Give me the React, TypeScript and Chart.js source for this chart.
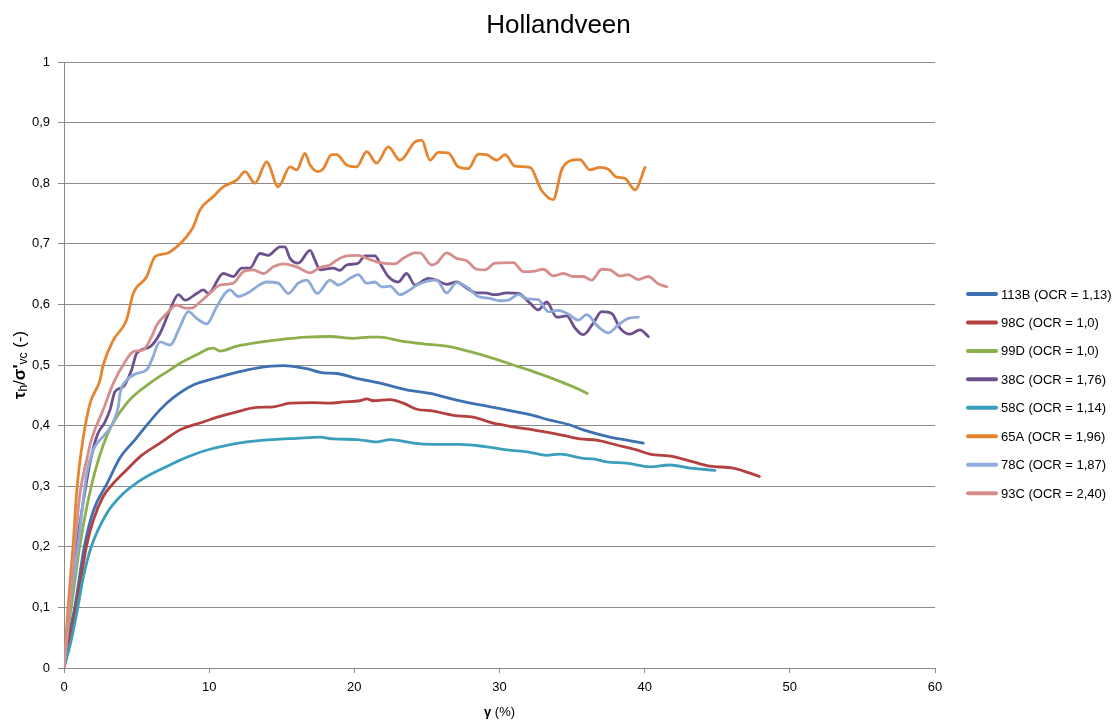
import React, { useEffect, useRef } from "react";
import { Chart, registerables } from "chart.js";

Chart.register(...registerables);

// ---------- data ----------
const chartTitle = "Hollandveen";
const xTickMax = 60;
const xTickStep = 10;
const yTickMax = 1;
const yTickStep = 0.1;

const seriesLabels = [
  "113B (OCR = 1,13)",
  "98C (OCR = 1,0)",
  "99D (OCR = 1,0)",
  "38C (OCR = 1,76)",
  "58C (OCR = 1,14)",
  "65A (OCR = 1,96)",
  "78C (OCR = 1,87)",
  "93C (OCR = 2,40)",
];

const d113B: [number, number][] = [
  [0, 0], [0.35, 0.055], [0.74, 0.1], [1.4, 0.2], [2.0, 0.258], [3.0, 0.306], [3.86, 0.347], [4.87, 0.376],
  [5.24, 0.387], [6.61, 0.426], [7.53, 0.446], [8.9, 0.467], [10.52, 0.479], [11.9, 0.488], [13.27, 0.495],
  [15.11, 0.499], [16.72, 0.494], [17.86, 0.487], [18.78, 0.486], [20.16, 0.478], [21.77, 0.47], [23.6, 0.459],
  [25.21, 0.453], [27.05, 0.442], [28.66, 0.434], [30.03, 0.428], [32.1, 0.418], [33.48, 0.409], [34.86, 0.401],
  [35.77, 0.393], [37.61, 0.381], [38.76, 0.376], [39.9, 0.371],
];

const d98C: [number, number][] = [
  [0, 0], [0.4, 0.05], [0.85, 0.101], [1.54, 0.2], [2.02, 0.244], [2.7, 0.283], [3.3, 0.302], [4.32, 0.327],
  [5.3, 0.35], [6.61, 0.371], [8.0, 0.393], [9.6, 0.406], [10.3, 0.412], [11.66, 0.421], [13.27, 0.43],
  [14.42, 0.431], [15.57, 0.437], [17.17, 0.438], [18.32, 0.437], [19.24, 0.439], [20.39, 0.441], [20.85, 0.444],
  [21.31, 0.441], [22.46, 0.443], [23.37, 0.437], [24.3, 0.427], [25.44, 0.424], [26.82, 0.417], [28.2, 0.414],
  [29.57, 0.404], [30.95, 0.398], [32.33, 0.393], [33.7, 0.387], [34.39, 0.384], [35.54, 0.378], [36.69, 0.376],
  [38.07, 0.368], [39.45, 0.36], [40.37, 0.353], [41.97, 0.349], [43.35, 0.34], [44.5, 0.333], [46.1, 0.33],
  [47.9, 0.316],
];

const d99D: [number, number][] = [
  [0, 0], [0.2, 0.05], [0.5, 0.1], [1.08, 0.2], [1.88, 0.3], [3.0, 0.386], [4.32, 0.437], [5.92, 0.47],
  [7.3, 0.492], [8.0, 0.503], [9.14, 0.517], [10.0, 0.527], [10.29, 0.528], [10.75, 0.523], [11.9, 0.531],
  [13.27, 0.537], [14.88, 0.542], [16.72, 0.546], [18.32, 0.547], [19.93, 0.544], [21.08, 0.546], [21.77, 0.546],
  [23.14, 0.54], [24.75, 0.535], [26.36, 0.531], [27.97, 0.522], [29.57, 0.511], [30.95, 0.5], [32.33, 0.489],
  [33.94, 0.475], [35.54, 0.459], [36.05, 0.453],
];

const d38C: [number, number][] = [
  [0, 0], [0.35, 0.1], [0.86, 0.2], [1.3, 0.27], [1.8, 0.34], [2.3, 0.385], [2.8, 0.405], [3.17, 0.426],
  [3.51, 0.456], [4.08, 0.464], [4.66, 0.492], [5.0, 0.519], [5.92, 0.53], [6.61, 0.552], [7.3, 0.591],
  [7.88, 0.616], [8.34, 0.607], [9.14, 0.618], [9.6, 0.624], [9.94, 0.618], [10.97, 0.651], [11.66, 0.646],
  [12.24, 0.66], [12.81, 0.66], [13.5, 0.684], [14.07, 0.681], [14.88, 0.695], [15.22, 0.695], [15.57, 0.676],
  [16.14, 0.668], [16.95, 0.689], [17.29, 0.673], [17.63, 0.657], [18.55, 0.66], [19.01, 0.656], [19.47, 0.665],
  [20.27, 0.668], [20.73, 0.68], [21.42, 0.68], [21.77, 0.668], [22.34, 0.646], [23.03, 0.637], [23.6, 0.651],
  [24.18, 0.632], [25.1, 0.643], [25.67, 0.64], [26.36, 0.633], [27.05, 0.637], [27.74, 0.627], [28.43, 0.619],
  [29.0, 0.619], [29.69, 0.616], [30.5, 0.619], [31.3, 0.618], [32.1, 0.602], [32.67, 0.591], [33.25, 0.604],
  [33.94, 0.579], [34.63, 0.581], [35.2, 0.561], [35.77, 0.55], [36.46, 0.569], [37.04, 0.588], [37.73, 0.585],
  [38.3, 0.561], [38.99, 0.551], [39.68, 0.558], [40.25, 0.547],
];

const d58C: [number, number][] = [
  [0, 0], [0.5, 0.046], [0.96, 0.101], [1.33, 0.15], [1.88, 0.2], [2.94, 0.255], [4.08, 0.288], [5.1, 0.307],
  [5.7, 0.316], [7.3, 0.335], [8.0, 0.343], [9.37, 0.356], [10.97, 0.366], [12.58, 0.373], [14.42, 0.377],
  [16.03, 0.379], [17.63, 0.381], [18.55, 0.378], [20.16, 0.377], [21.54, 0.373], [22.46, 0.377], [24.06, 0.371],
  [25.44, 0.369], [27.28, 0.369], [29.12, 0.365], [30.5, 0.36], [32.1, 0.356], [33.25, 0.351], [34.17, 0.353],
  [35.77, 0.346], [36.46, 0.345], [37.38, 0.34], [38.76, 0.338], [40.37, 0.332], [41.74, 0.335], [43.12, 0.33],
  [44.04, 0.328], [44.84, 0.326],
];

const d65A: [number, number][] = [
  [0, 0], [0.28, 0.1], [0.62, 0.2], [0.87, 0.29], [1.3, 0.376], [1.8, 0.437], [2.48, 0.475], [2.7, 0.5],
  [3.4, 0.541], [4.3, 0.574], [4.77, 0.618], [5.7, 0.646], [6.27, 0.679], [7.07, 0.684], [7.76, 0.695],
  [8.45, 0.712], [8.9, 0.728], [9.37, 0.756], [10.29, 0.778], [10.97, 0.794], [11.9, 0.805], [12.47, 0.819],
  [13.16, 0.8], [13.96, 0.835], [14.76, 0.794], [15.57, 0.827], [16.03, 0.822], [16.6, 0.849], [16.95, 0.83],
  [17.52, 0.819], [17.86, 0.824], [18.44, 0.847], [18.78, 0.847], [19.47, 0.83], [20.16, 0.827], [20.85, 0.852],
  [21.54, 0.833], [22.34, 0.86], [23.14, 0.838], [24.18, 0.868], [24.64, 0.871], [25.21, 0.838], [25.78, 0.851],
  [26.47, 0.85], [27.16, 0.827], [27.85, 0.824], [28.54, 0.848], [29.12, 0.847], [29.8, 0.838], [30.38, 0.847],
  [31.07, 0.828], [32.1, 0.826], [32.9, 0.788], [33.7, 0.773], [34.28, 0.822], [34.86, 0.837], [35.54, 0.839],
  [36.23, 0.822], [36.92, 0.826], [37.5, 0.823], [38.07, 0.81], [38.64, 0.808], [39.33, 0.789], [40.02, 0.826],
];

const d78C: [number, number][] = [
  [0, 0], [0.4, 0.1], [0.96, 0.2], [1.56, 0.32], [2.02, 0.36], [2.46, 0.376], [2.7, 0.382], [3.28, 0.401],
  [3.74, 0.431], [3.86, 0.453], [4.32, 0.475], [5.0, 0.486], [5.7, 0.492], [6.04, 0.508], [6.61, 0.538],
  [7.3, 0.533], [7.99, 0.563], [8.56, 0.588], [9.14, 0.577], [9.83, 0.568], [10.52, 0.596], [11.09, 0.618],
  [11.43, 0.624], [12.0, 0.613], [12.81, 0.621], [13.27, 0.629], [13.96, 0.637], [14.76, 0.635], [15.45, 0.618],
  [16.14, 0.635], [16.72, 0.64], [17.45, 0.618], [18.32, 0.64], [18.9, 0.632], [19.7, 0.643], [20.27, 0.649],
  [20.85, 0.635], [21.42, 0.637], [21.88, 0.629], [22.46, 0.63], [23.14, 0.616], [23.83, 0.624], [24.4, 0.633],
  [25.67, 0.64], [26.36, 0.619], [27.05, 0.636], [27.85, 0.627], [28.54, 0.613], [29.34, 0.61], [30.03, 0.606],
  [30.61, 0.607], [31.3, 0.616], [31.98, 0.609], [32.67, 0.608], [33.36, 0.588], [34.05, 0.59], [34.74, 0.584],
  [35.43, 0.574], [36.0, 0.583], [36.81, 0.563], [37.5, 0.553], [38.18, 0.566], [38.87, 0.577], [39.56, 0.579],
];

const d93C: [number, number][] = [
  [0, 0], [0.39, 0.1], [0.74, 0.2], [1.1, 0.288], [1.56, 0.343], [1.88, 0.376], [2.7, 0.426], [3.4, 0.47],
  [4.2, 0.505], [4.77, 0.522], [5.46, 0.525], [6.04, 0.547], [6.39, 0.566], [7.07, 0.585], [7.76, 0.599],
  [8.34, 0.594], [8.8, 0.594], [9.37, 0.604], [10.17, 0.621], [10.75, 0.632], [11.66, 0.635], [12.35, 0.654],
  [13.04, 0.657], [13.73, 0.651], [14.42, 0.662], [15.11, 0.667], [16.03, 0.662], [16.95, 0.652], [17.63, 0.661],
  [18.32, 0.665], [18.78, 0.673], [19.47, 0.68], [20.27, 0.681], [20.85, 0.676], [21.77, 0.669], [22.8, 0.667],
  [23.37, 0.676], [24.18, 0.685], [24.52, 0.685], [25.33, 0.665], [25.67, 0.668], [26.36, 0.685], [27.05, 0.676],
  [27.74, 0.672], [28.43, 0.658], [29.0, 0.657], [29.69, 0.668], [30.95, 0.669], [31.64, 0.654], [32.44, 0.655],
  [33.02, 0.658], [33.7, 0.647], [34.39, 0.651], [35.08, 0.646], [35.77, 0.646], [36.35, 0.64], [37.04, 0.658],
  [37.61, 0.657], [38.3, 0.647], [38.87, 0.649], [39.56, 0.641], [40.25, 0.646], [40.94, 0.634], [41.52, 0.629],
];

const seriesData = [d113B, d98C, d99D, d38C, d58C, d65A, d78C, d93C];

// ---------- styles ----------
const seriesColors = [
  "#3f70b1", "#b2413f", "#8db04c", "#6d518f", "#3a9fba", "#e5852f", "#8eaad8", "#d58e8c",
];
const FONT = "'Liberation Sans', Arial, sans-serif";
const GRID = "#8a8a8a";

type Part = { t: string; bold?: boolean; size: number; dy?: number };

function drawParts(ctx: CanvasRenderingContext2D, parts: Part[], cx: number, cy: number, rot: number) {
  ctx.save();
  ctx.translate(cx, cy);
  ctx.rotate(rot);
  ctx.textBaseline = "middle";
  ctx.textAlign = "left";
  ctx.fillStyle = "#000";
  let total = 0;
  const widths = parts.map((p) => {
    ctx.font = `${p.bold ? "bold " : ""}${p.size}px ${FONT}`;
    const w = ctx.measureText(p.t).width;
    total += w;
    return w;
  });
  let x = -total / 2;
  parts.forEach((p, i) => {
    ctx.font = `${p.bold ? "bold " : ""}${p.size}px ${FONT}`;
    ctx.fillText(p.t, x, p.dy || 0);
    x += widths[i];
  });
  ctx.restore();
}

const decorPlugin = {
  id: "decor",
  afterDraw(chart: any) {
    const ctx: CanvasRenderingContext2D = chart.ctx;
    const area = chart.chartArea;
    // chart title, centred on the whole canvas
    drawParts(ctx, [{ t: chartTitle, size: 26 }], chart.width / 2, 26, 0);
    // x axis title
    drawParts(
      ctx,
      [
        { t: "γ", bold: true, size: 13 },
        { t: " (%)", size: 13 },
      ],
      (area.left + area.right) / 2,
      712,
      0
    );
    // y axis title
    drawParts(
      ctx,
      [
        { t: "τ", bold: true, size: 17 },
        { t: "h", size: 12, dy: 4 },
        { t: "/", size: 17 },
        { t: "σ'", bold: true, size: 17 },
        { t: "vc", size: 12, dy: 4 },
        { t: " (-)", size: 17 },
      ],
      20,
      (area.top + area.bottom) / 2,
      -Math.PI / 2
    );
    // legend
    const ds = chart.data.datasets;
    const left = 966;
    const rowH = 28.45;
    const y0 = 294;
    ctx.save();
    ctx.textBaseline = "middle";
    ctx.textAlign = "left";
    ctx.font = `13px ${FONT}`;
    ds.forEach((d: any, i: number) => {
      const y = y0 + i * rowH;
      ctx.strokeStyle = d.borderColor;
      ctx.lineWidth = 4;
      ctx.lineCap = "round";
      ctx.beginPath();
      ctx.moveTo(left + 2, y);
      ctx.lineTo(left + 30, y);
      ctx.stroke();
      ctx.fillStyle = "#000";
      ctx.fillText(d.label, left + 35, y + 1);
    });
    ctx.restore();
  },
};

export default function App() {
  const canvasRef = useRef<HTMLCanvasElement | null>(null);

  useEffect(() => {
    if (!canvasRef.current) return;
    const n = seriesData.length;
    const chart = new Chart(canvasRef.current, {
      type: "line",
      data: {
        datasets: seriesData.map((arr, i) => ({
          label: seriesLabels[i],
          data: arr.map(([x, y]) => ({ x, y })),
          borderColor: seriesColors[i],
          backgroundColor: seriesColors[i],
          borderWidth: 2.8,
          pointRadius: 0,
          pointHoverRadius: 0,
          fill: false,
          cubicInterpolationMode: "monotone" as const,
          borderJoinStyle: "round" as const,
          borderCapStyle: "round" as const,
          order: n - i,
        })),
      },
      options: {
        responsive: false,
        animation: false,
        events: [],
        layout: { padding: { left: 0, right: 182, top: 62, bottom: 0 } },
        plugins: {
          legend: { display: false },
          tooltip: { enabled: false },
          title: { display: false },
        },
        scales: {
          x: {
            type: "linear",
            min: 0,
            max: xTickMax,
            ticks: {
              stepSize: xTickStep,
              color: "#000",
              font: { family: FONT, size: 13 },
              padding: 7,
              maxRotation: 0,
            },
            grid: { drawOnChartArea: false, drawTicks: true, tickLength: 5, color: GRID },
            border: { display: true, color: GRID },
            afterFit: (s: any) => {
              s.height = 52;
            },
          },
          y: {
            type: "linear",
            min: 0,
            max: yTickMax,
            ticks: {
              stepSize: yTickStep,
              color: "#000",
              font: { family: FONT, size: 13 },
              padding: 8,
              callback: (v: any) => {
                const num = Number(v);
                if (Math.abs(num) < 1e-9) return "0";
                if (Math.abs(num - 1) < 1e-9) return "1";
                return num.toFixed(1).replace(".", ",");
              },
            },
            grid: { color: GRID, tickLength: 6, drawTicks: true },
            border: { display: true, color: GRID },
            afterFit: (s: any) => {
              s.width = 64;
            },
          },
        },
      },
      plugins: [decorPlugin],
    });
    return () => chart.destroy();
  }, []);

  return (
    <div style={{ position: "absolute", left: 0, top: 0, width: 1117, height: 720, background: "#fff" }}>
      <canvas ref={canvasRef} width={1117} height={720} style={{ display: "block" }} />
    </div>
  );
}
